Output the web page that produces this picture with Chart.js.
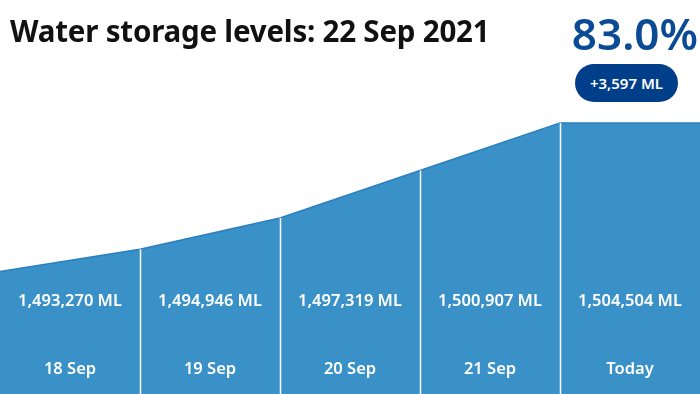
<!DOCTYPE html>
<html>
<head>
<meta charset="utf-8">
<script src="https://cdn.jsdelivr.net/npm/chart.js@4"></script>
<style>
  html, body { margin: 0; padding: 0; background: #fff; }
  #wrap { position: relative; width: 700px; height: 394px; overflow: hidden; font-family: "Noto Sans", sans-serif; }
  #storage-chart { position: absolute; left: 0; top: 0; }
  #title { position: absolute; left: 10px; top: 10px; font-size: 29.5px; font-weight: 700; color: #111; letter-spacing: -0.2px; white-space: nowrap; }
  #percent { position: absolute; right: 2px; top: 3px; font-size: 44px; font-weight: 600; color: #0b4a94; white-space: nowrap; }
  #change { position: absolute; left: 575px; top: 64px; width: 103px; height: 38px; border-radius: 19px; background: #003e8a; color: #fff; font-size: 15px; font-weight: 600; line-height: 38px; text-align: center; }
</style>
</head>
<body>
<div id="wrap">
  <canvas id="storage-chart" width="700" height="394"></canvas>
  <div id="title">Water storage levels: 22 Sep 2021</div>
  <div id="percent">83.0%</div>
  <div id="change">+3,597 ML</div>
</div>
<script>
// البيانات
const dayLabels = ['18 Sep', '19 Sep', '20 Sep', '21 Sep', 'Today'];
const storageML = [1493270, 1494946, 1497319, 1500907, 1504504];
const yMin = 1484000;
const yMax = 1513800;

// the last column stays flat at today's level
const linePoints = storageML.map((v, i) => ({ x: i, y: v }));
linePoints.push({ x: storageML.length, y: storageML[storageML.length - 1] });

const columnLabels = {
    id: 'columnLabels',
    afterDatasetsDraw(chart) {
        const { ctx, scales: { x, y }, chartArea } = chart;
        ctx.save();
        // white separators between the days
        ctx.strokeStyle = '#ffffff';
        ctx.lineWidth = 1.5;
        for (let i = 1; i < storageML.length; i++) {
            const px = Math.round(x.getPixelForValue(i)) + 0.5;
            ctx.beginPath();
            ctx.moveTo(px, y.getPixelForValue(storageML[i]));
            ctx.lineTo(px, chartArea.bottom);
            ctx.stroke();
        }
        ctx.fillStyle = '#ffffff';
        ctx.textAlign = 'center';
        ctx.textBaseline = 'middle';
        storageML.forEach((v, i) => {
            const cx = x.getPixelForValue(i + 0.5);
            ctx.font = '600 16.5px "Noto Sans"';
            ctx.fillText(v.toLocaleString('en-US') + ' ML', cx, 301);
            ctx.font = '600 16.5px "Noto Sans"';
            ctx.fillText(dayLabels[i], cx, 369);
        });
        ctx.restore();
    }
};

const ctx = document.getElementById('storage-chart').getContext('2d');
const storageChart = new Chart(ctx, {
    type: 'line',
    data: {
        datasets: [{
            data: linePoints,
            fill: 'start',
            backgroundColor: '#3a91c8',
            borderColor: '#2a7fbf',
            borderWidth: 1.5,
            pointRadius: 0,
            tension: 0
        }]
    },
    options: {
        responsive: false,
        animation: false,
        devicePixelRatio: 1,
        layout: { padding: 0 },
        plugins: { legend: { display: false }, tooltip: { enabled: false } },
        scales: {
            x: { type: 'linear', min: 0, max: storageML.length, display: false },
            y: { min: yMin, max: yMax, display: false }
        }
    },
    plugins: [columnLabels]
});
</script>
</body>
</html>
